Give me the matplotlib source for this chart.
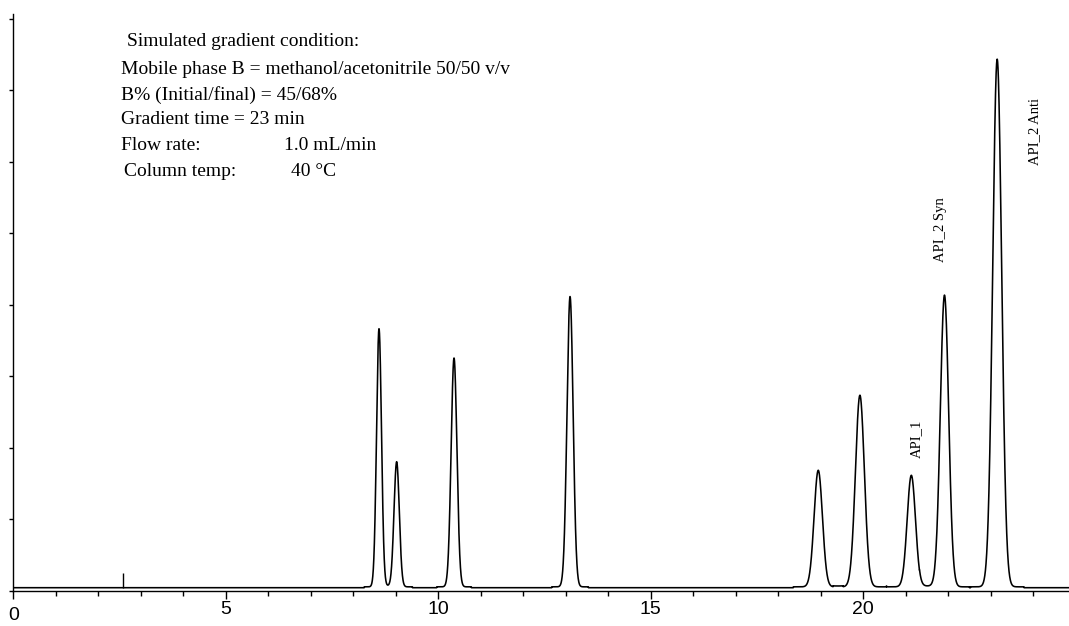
import numpy as np
import matplotlib
matplotlib.use("Agg")
import matplotlib.pyplot as plt
from matplotlib.transforms import ScaledTranslation

# ---------------- data ----------------
peak_times = [8.605, 9.02, 10.37, 13.10, 18.94, 19.92, 21.13, 21.91, 23.15]      # min
peak_heights = [36.1, 17.5, 32.0, 40.6, 16.3, 26.8, 15.6, 40.8, 73.8]            # signal units
peak_sigmas = [0.058, 0.062, 0.068, 0.072, 0.098, 0.105, 0.098, 0.098, 0.105]     # min
baseline_level = 0.42
pedestal_height = 0.12
injection_time = 2.58
injection_marker_height = 2.0

peak_labels = ["API_1", "API_2 Syn", "API_2 Anti"]
peak_label_x = [21.24, 21.82, 24.03]
peak_label_y = [18.6, 46.0, 59.6]

condition_lines = [
    "Simulated gradient condition:",
    "Mobile phase B = methanol/acetonitrile 50/50 v/v",
    "B% (Initial/final) = 45/68%",
    "Gradient time = 23 min",
    "Flow rate:",
    "Column temp:",
]
condition_values = ["1.0 mL/min", "40 °C"]

x_major_ticks = [0, 5, 10, 15, 20]
y_ticks = [0, 10, 20, 30, 40, 50, 60, 70, 80]

# ---------------- build the trace ----------------
t = np.linspace(0, 24.9, 12000)
signal = np.full_like(t, baseline_level)
for tr, h, s in zip(peak_times, peak_heights, peak_sigmas):
    signal += h * np.exp(-0.5 * ((t - tr) / s) ** 2)
    signal += pedestal_height * (np.abs(t - tr) < 6 * s)

# ---------------- figure ----------------
W, H = 1069, 626
fig = plt.figure(figsize=(W / 100, H / 100), dpi=100)
ax_left_px, ax_bottom_px, ax_top_px = 13.3, 590.7, 13.5
ax = fig.add_axes([ax_left_px / W, (H - ax_bottom_px) / H,
                   1 - ax_left_px / W, (ax_bottom_px - ax_top_px) / H])

ax.plot(t, signal, color="black", lw=1.15, solid_joinstyle="round")
ax.vlines(injection_time, baseline_level, baseline_level + injection_marker_height,
          color="black", lw=1.0)

ax.set_xlim(0, (W - ax_left_px) / 42.5)
ax.set_ylim(0, (ax_bottom_px - ax_top_px) / 7.15)

for side in ("top", "right"):
    ax.spines[side].set_visible(False)
for side in ("left", "bottom"):
    ax.spines[side].set_linewidth(1.0)

ax.set_xticks(x_major_ticks)
ax.set_xticks(np.arange(0, 25, 1), minor=True)
ax.set_yticks(y_ticks)
ax.set_yticklabels([])
ax.tick_params(axis="x", which="major", direction="out", length=5.5, width=1.0,
               pad=2.0, labelsize=14)
ax.tick_params(axis="x", which="minor", direction="out", length=3.8, width=1.0)
ax.tick_params(axis="y", which="major", direction="out", length=3.0, width=1.0)
for lab in ax.get_xticklabels():
    lab.set_fontfamily("Liberation Sans")
# the "0" label sits a little lower in the reference
zero_lab = ax.get_xticklabels()[0]
zero_lab.set_transform(zero_lab.get_transform() +
                       ScaledTranslation(0, -6 / 100, fig.dpi_scale_trans))

# ---------------- annotations ----------------
def ax_frac(px, py):
    return ((px - ax_left_px) / (W - ax_left_px),
            (ax_bottom_px - py) / (ax_bottom_px - ax_top_px))

serif = "Liberation Serif"
line_px = [(127, 42), (121, 70), (121, 95), (121, 120), (121, 145), (124, 172)]
for txt, (px, py) in zip(condition_lines, line_px):
    fx, fy = ax_frac(px, py)
    ax.text(fx, fy, txt, transform=ax.transAxes, ha="left", va="center",
            fontsize=14, fontfamily=serif)
val_px = [(284, 145), (291, 172)]
for txt, (px, py) in zip(condition_values, val_px):
    fx, fy = ax_frac(px, py)
    ax.text(fx, fy, txt, transform=ax.transAxes, ha="left", va="center",
            fontsize=14, fontfamily=serif)

for lab, lx, ly in zip(peak_labels, peak_label_x, peak_label_y):
    ax.text(lx, ly, lab, rotation=90, ha="center", va="bottom",
            fontsize=10.5, fontfamily=serif)

fig.savefig("out.png", dpi=100)
